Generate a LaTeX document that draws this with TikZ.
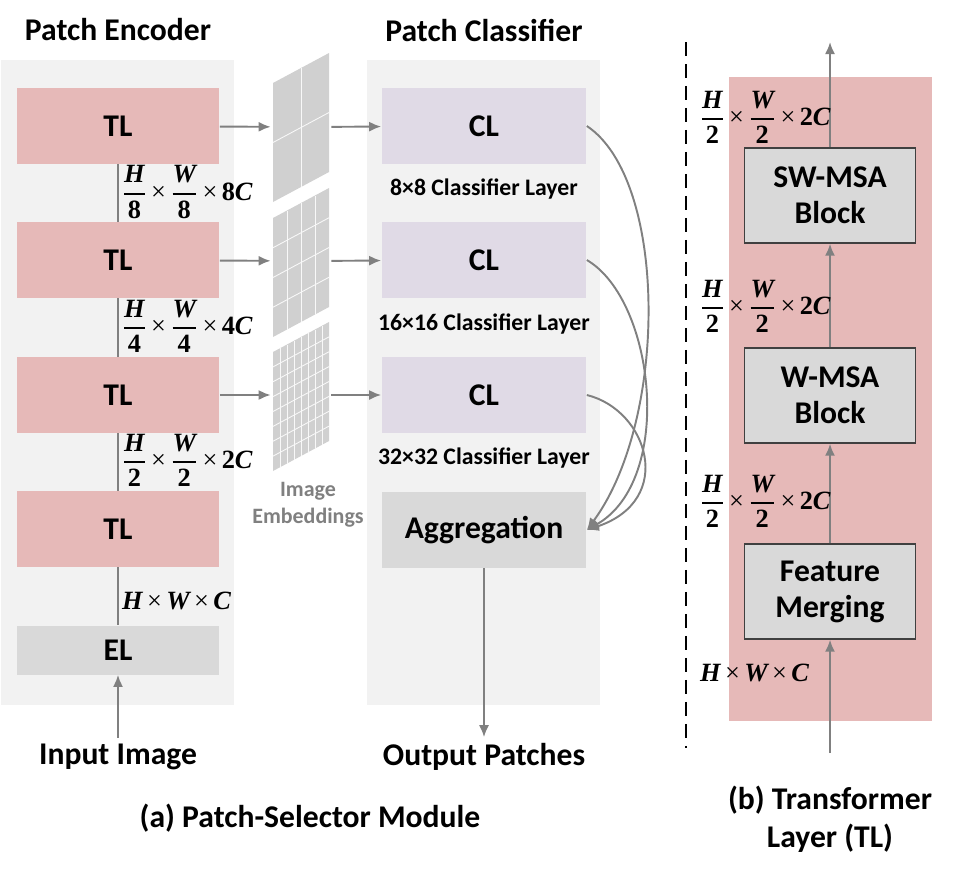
\documentclass[tikz,border=0pt]{standalone}
\usepackage{amsmath}
\usepackage{fontspec}
\setmainfont{Carlito}
\newfontfamily\mfont{Liberation Serif}
\usetikzlibrary{positioning}
\usetikzlibrary{arrows.meta}
\definecolor{tlred}{HTML}{E6B9B8}
\definecolor{clpurple}{HTML}{E0DAE6}
\definecolor{blkgray}{HTML}{D9D9D9}
\definecolor{panelgray}{HTML}{F2F2F2}
\definecolor{arrgray}{HTML}{808080}
\definecolor{gridgray}{HTML}{D0D0D0}
\newcommand{\mv}[1]{\mbox{\mfont\bfseries\itshape #1}}
\newcommand{\mn}[1]{\mbox{\mfont\bfseries #1}}
\newcommand{\mtimes}{\mbox{\mfont\,×\,}}
\newcommand{\bfr}[2]{\genfrac{}{}{1.1pt}{0}{#1}{#2}}
\newcommand{\dimfrac}[3]{$\bfr{\mv{H}}{\mn{#1}}\mtimes\bfr{\mv{W}}{\mn{#2}}\mtimes\mn{#3}\mv{C}$}
\newcommand{\dimfull}{$\mv{H}\mtimes\mv{W}\mtimes\mv{C}$}
\begin{document}
\begin{tikzpicture}[x=0.02cm,y=-0.02cm]
\tikzset{
  tl/.style={rectangle, fill=tlred, minimum width=4.06cm, minimum height=1.52cm, inner sep=0pt, font=\fontsize{18}{20}\selectfont\bfseries},
  cl/.style={tl, fill=clpurple, minimum width=4.1cm},
  blk/.style={rectangle, fill=blkgray, draw=black!75, line width=0.8pt, minimum width=3.42cm, minimum height=1.9cm, inner sep=0pt, align=center, font=\fontsize{18}{20.5}\selectfont\bfseries},
  arr/.style={draw=arrgray, line width=1.1pt, -{Latex[length=2.4mm,width=2mm]}},
  tlink/.style={draw=arrgray, line width=1.1pt},
  dimlbl/.style={anchor=west, inner sep=1pt, font=\fontsize{15}{17}\selectfont},
  title/.style={font=\fontsize{18}{21.6}\selectfont\bfseries, align=center},
  clcap/.style={font=\fontsize{13.5}{16}\selectfont\bfseries},
}
\useasboundingbox (0,0) rectangle (959,873);

% panels
\fill[panelgray] (1,60) rectangle (234,705);
\fill[panelgray] (367,60) rectangle (600,705);
\fill[tlred] (729,77) rectangle (932,721);

\path (118,30) node[title] (enc) {Patch Encoder};
\path (484,30) node[title] (cls) {Patch Classifier};

% encoder
\foreach \i/\y in {1/126,2/260,3/395,4/529} {
\node[tl] (tl\i) at (118,\y) {TL};
}
\node[tl, fill=blkgray, minimum height=0.98cm] (el) at (118,650) {EL};
\draw[tlink] (tl1) -- (tl2);
\draw[tlink] (tl2) -- (tl3);
\draw[tlink] (tl3) -- (tl4);
\draw[tlink] (tl4) -- (el);
\node[dimlbl] (d1) at (120,192) {\dimfrac{8}{8}{8}};
\node[dimlbl] (d2) at (120,326) {\dimfrac{4}{4}{4}};
\node[dimlbl] (d3) at (120,460) {\dimfrac{2}{2}{2}};
\node[dimlbl] (d4) at (120,601) {\dimfull};
\node[title] (in) at (118,757) {Input Image};
\draw[arr] (in) -- (el);

% embeddings
\foreach \n/\yt/\i/\yr in {2/83/1/127,4/218/2/261,8/352/3/395} {
\fill[gridgray] (273,\yt) -- (329,\yt-30) -- (329,\yt+89) -- (273,\yt+119) -- cycle;
\pgfmathtruncatemacro\m{\n-1}
\foreach \k in {1,...,\m} {
\draw[white!85!gridgray, line width=0.5pt] ({273+56*\k/\n},{\yt-30*\k/\n}) -- ++(0,119);
\draw[white!85!gridgray, line width=0.5pt] (273,{\yt+119*\k/\n}) -- ++(56,-30);
}
\node[minimum width=1.2cm, minimum height=2mm, inner sep=0pt] (g\i) at (301,\yr) {};
}
\node[font=\fontsize{12.5}{15.4}\selectfont\bfseries, text=arrgray, align=center] (emb) at (308,505) {Image\\Embeddings};

% classifier
\foreach \i/\y/\t/\yc in {1/126/8×8/189,2/260/16×16/324,3/395/32×32/458} {
\node[cl] (cl\i) at (484,\y) {CL};
\node[clcap] (c\i) at (484,\yc) {\t{} Classifier Layer};
\draw[arr] (tl\i) -- (g\i);
\draw[arr] (g\i) -- (cl\i);
}
\node[tl, fill=blkgray, minimum width=4.1cm] (agg) at (484,530) {Aggregation};
\draw[arr] (cl1.east) .. controls (668,180) and (668,420) .. (agg.east);
\draw[arr] (cl2.east) .. controls (655,300) and (675,480) .. (agg.east);
\draw[arr] (cl3.east) .. controls (648,410) and (676,500) .. (agg.east);
\node[title] (out) at (484,757) {Output Patches};
\draw[arr] (agg) -- (out);
\node[title] (capa) at (310,818) {(a) Patch-Selector Module};

% transformer layer
\coordinate (dtop) at (686,42);
\coordinate (dbot) at (686,748);
\draw[black, line width=1.1pt, dash pattern=on 0.28cm off 0.16cm] (dtop) -- (dbot);
\node[blk] (sw) at (830,195.5) {SW-MSA\\Block};
\node[blk] (wm) at (830,395.5) {W-MSA\\Block};
\node[blk] (fm) at (830,591.5) {Feature\\Merging};
\coordinate (tin) at (830,753);
\coordinate (tout) at (830,42);
\draw[arr] (tin) -- (fm);
\draw[arr] (fm) -- (wm);
\draw[arr] (wm) -- (sw);
\draw[arr] (sw) -- (tout);
\node[dimlbl] (r1) at (698,117) {\dimfrac{2}{2}{2}};
\node[dimlbl] (r2) at (698,306) {\dimfrac{2}{2}{2}};
\node[dimlbl] (r3) at (698,501) {\dimfrac{2}{2}{2}};
\node[dimlbl] (r4) at (698,673) {\dimfull};
\node[title] (capb) at (830,819) {(b) Transformer\\Layer (TL)};
\end{tikzpicture}
\end{document}
